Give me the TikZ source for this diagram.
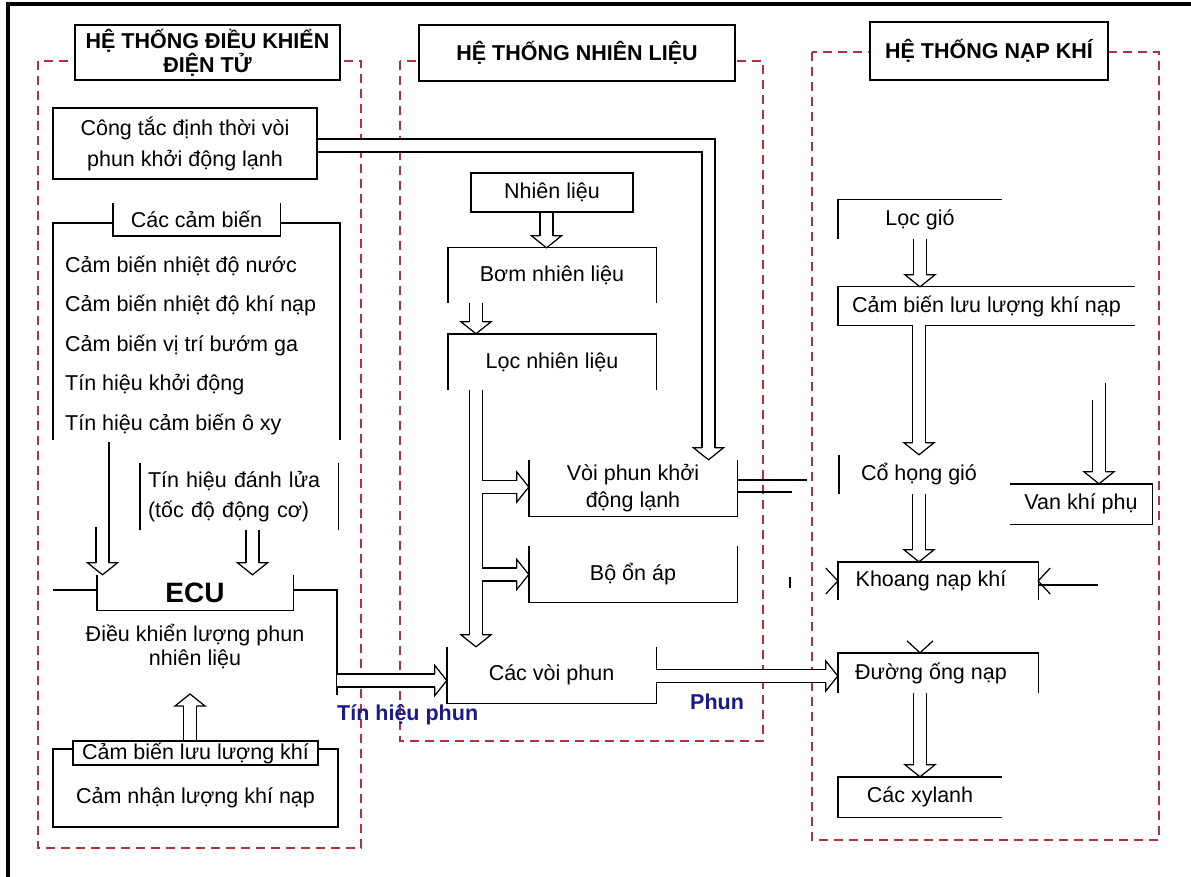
\documentclass[tikz,border=0pt]{standalone}
\usepackage{fontspec}
\setmainfont{Liberation Sans}
\usetikzlibrary{arrows.meta,calc}
\definecolor{dashred}{RGB}{175,50,60}
\definecolor{navyblue}{RGB}{25,25,140}
\begin{document}
\begin{tikzpicture}[x=1pt,y=-1pt,
 every node/.style={font=\fontsize{21.5}{26}\selectfont, inner sep=0pt},
 bx/.style={inner sep=0pt, align=center},
 fr/.style={line width=1.4pt},
 ttl/.style={draw, line width=2pt, fill=white, align=center, font=\bfseries\fontsize{21.5}{20}\selectfont},
 dashbox/.style={draw=dashred, line width=2pt, dash pattern=on 9pt off 6pt},
 dbl/.style={double, double distance=11.5pt, line width=1.3pt, shorten >=12pt},
 lbl/.style={text=navyblue, font=\bfseries\fontsize{21.5}{26}\selectfont},
 hd/.pic={\draw[line width=1.2pt, line join=miter, line cap=butt]
   (-12pt,6.4pt) -- (-12pt,15pt) -- (0pt,0pt) -- (-12pt,-15pt) -- (-12pt,-6.4pt);},
 cv/.pic={\draw[line width=1.2pt, line join=miter]
   (-12pt,13pt) -- (0pt,0pt) -- (-12pt,-13pt);},
]
\useasboundingbox (0,0) rectangle (1191,877);
\fill[white] (0,0) rectangle (1191,877);
% outer black frame
\draw[line width=3.5pt] (8,880) -- (8,4) -- (1195,4);

% dashed groups
\draw[dashbox] (38,61) rectangle (361,848);
\draw[dashbox] (400,61) rectangle (763,741);
\draw[dashbox] (812,52) rectangle (1159,840);

% titles
\node[ttl, minimum width=265pt, minimum height=55pt] (t1) at (207.5,52.5) {HỆ THỐNG ĐIỀU KHIỂN\\ĐIỆN TỬ};
\node[ttl, minimum width=316pt, minimum height=56pt] (t2) at (577,53) {HỆ THỐNG NHIÊN LIỆU};
\node[ttl, minimum width=238pt, minimum height=58pt] (t3) at (989,51) {HỆ THỐNG NẠP KHÍ};

% ---------- left column ----------
\node[bx, draw, line width=1.4pt, minimum width=264pt, minimum height=71pt, font=\fontsize{21.5}{31}\selectfont] (ctac) at (185,143.5) {Công tắc định thời vòi\\phun khởi động lạnh};

\node[bx, minimum width=167pt, minimum height=33pt] (ccb) at (196.5,219.5) {Các cảm biến};
\draw[fr] (ccb.north west) -- (ccb.south west) -- (ccb.south east) -- (ccb.north east);
\draw[fr] (113,223) -- (53,223) -- (53,440);
\draw[fr] (280,223) -- (340,223) -- (340,440);

\node[anchor=west] (s1) at (65,266) {Cảm biến nhiệt độ nước};
\node[anchor=west] (s2) at (65,305.5) {Cảm biến nhiệt độ khí nạp};
\node[anchor=west] (s3) at (65,345) {Cảm biến vị trí bướm ga};
\node[anchor=west] (s4) at (65,384.5) {Tín hiệu khởi động};
\node[anchor=west] (s5) at (65,424) {Tín hiệu cảm biến ô xy};

\node[bx, text width=182pt, inner xsep=8pt, align=left, minimum height=67pt, font=\fontsize{21.5}{30}\selectfont] (dl) at (239,496.5) {Tín hiệu đánh lửa\\(tốc độ động cơ)};
\draw[fr] (dl.north west) -- (dl.south west);
\draw[fr] (dl.north east) -- (dl.south east);

\node[bx, minimum width=196pt, minimum height=35pt, font=\bfseries\fontsize{28}{30}\selectfont] (ecu) at (195,592.5) {ECU};
\draw[fr] (ecu.north west) -- (ecu.south west) -- (ecu.south east) -- (ecu.north east);
\draw[fr] (53,590) -- (97,590);
\draw[fr] (293,590) -- (337,590) -- (337,695);

\coordinate (a1) at (102.5,527);
\draw[fr] (108.9,442) -- (108.9,527);
\draw[dbl] (a1) -- (a1 |- ecu.north);
\pic[rotate=-90] at (a1 |- ecu.north) {hd};
\coordinate (a2) at (252.5,530);
\draw[dbl] (a2) -- (a2 |- ecu.north);
\pic[rotate=-90] at (a2 |- ecu.north) {hd};

\node[align=center, font=\fontsize{21.5}{24}\selectfont] (ecut) at (195,646) {Điều khiển lượng phun\\nhiên liệu};

\node[bx, draw, line width=1.4pt, minimum width=245pt, minimum height=24pt] (mf) at (195.5,753) {Cảm biến lưu lượng khí};
\draw[fr] (73,749) -- (53,749) -- (53,827) -- (338,827) -- (338,749) -- (318,749);
\node (mn) at (195.5,798) {Cảm nhận lượng khí nạp};
\coordinate (a3) at ([xshift=-5.5pt]mf.north);
\coordinate (a3t) at (190,694);
\draw[dbl] (a3) -- (a3t);
\pic[rotate=90] at (a3t) {hd};

% ---------- middle column ----------
\node[bx, draw, line width=1.4pt, minimum width=162pt, minimum height=39pt] (nl) at (552,192.5) {Nhiên liệu};
\node[bx, minimum width=208pt, minimum height=55pt] (bom) at (552,275.5) {Bơm nhiên liệu};
\draw[fr] (bom.south west) -- (bom.north west) -- (bom.north east) -- (bom.south east);
\node[bx, minimum width=208pt, minimum height=56pt] (loc) at (552,362) {Lọc nhiên liệu};
\draw[fr] (loc.south west) -- (loc.north west) -- (loc.north east) -- (loc.south east);
\node[bx, minimum width=208pt, minimum height=56pt, font=\fontsize{21.5}{27}\selectfont] (vp) at (633,488) {Vòi phun khởi\\động lạnh};
\draw[fr] (vp.north west) -- (vp.south west) -- (vp.south east) -- (vp.north east);
\node[bx, minimum width=208pt, minimum height=56pt] (boa) at (633,574) {Bộ ổn áp};
\draw[fr] (boa.north west) -- (boa.south west) -- (boa.south east) -- (boa.north east);
\node[bx, minimum width=209pt, minimum height=56pt] (cvp) at (551.5,675) {Các vòi phun};
\draw[fr] (cvp.north west) -- (cvp.south west) -- (cvp.south east) -- (cvp.north east);

\coordinate (f1) at ([xshift=-5.5pt]nl.south);
\draw[dbl] (f1) -- (f1 |- bom.north);
\pic[rotate=-90] at (f1 |- bom.north) {hd};
\coordinate (f2) at (476,303);
\draw[dbl] (f2 |- bom.south) -- (f2 |- loc.north);
\pic[rotate=-90] at (f2 |- loc.north) {hd};
\draw[dbl] (f2 |- loc.south) -- (f2 |- cvp.north);
\pic[rotate=-90] at (f2 |- cvp.north) {hd};
\coordinate (br1) at (481.8,487);
\draw[dbl] (br1) -- (br1 -| vp.west);
\pic at (br1 -| vp.west) {hd};
\coordinate (br2) at (481.8,574.5);
\draw[dbl] (br2) -- (br2 -| boa.west);
\pic at (br2 -| boa.west) {hd};

\coordinate (c1) at ([yshift=-2pt]ctac.east);
\coordinate (vptop) at ([xshift=75.5pt]vp.north);
\draw[dbl] (c1) -| (vptop);
\pic[rotate=-90] at (vptop) {hd};

\draw[fr] ([yshift=8pt]vp.east) -- ++(70,0);
\draw[fr] ([yshift=-4pt]vp.east) -- ++(55,0);

\coordinate (ecuR) at (337,680.5);
\draw[dbl] (ecuR) -- (ecuR -| cvp.west);
\pic at (ecuR -| cvp.west) {hd};
\node[lbl, anchor=west] (tp) at (337,715) {Tín hiệu phun};

\coordinate (c3) at ([yshift=-1pt]cvp.east);

% ---------- right column ----------
\node[bx, minimum width=164pt, minimum height=39pt] (lg) at (920,219.5) {Lọc gió};
\draw[fr] (lg.south west) -- (lg.north west) -- (lg.north east);
\node[bx, minimum width=297pt, minimum height=38pt] (cb) at (986.5,306) {Cảm biến lưu lượng khí nạp};
\draw[fr] (cb.north east) -- (cb.north west) -- (cb.south west) -- (cb.south east);
\node[bx, minimum width=160pt, minimum height=39pt] (chg) at (919,474.5) {Cổ họng gió};
\draw[fr] (chg.north west) -- (chg.south west);
\node[bx, minimum width=142pt, minimum height=40pt] (vkp) at (1081,504) {Van khí phụ};
\draw[fr] (vkp.north west) -- (vkp.north east) -- (vkp.south east) -- (vkp.south west);
\node[bx, minimum width=200pt, minimum height=38pt] (kn) at (938,581) {Khoang nạp khí\hspace*{14pt}};
\draw[fr] (kn.south west) -- (kn.north west) -- (kn.north east) -- (kn.south east);
\node[bx, minimum width=200pt, minimum height=40pt] (dong) at (938,673) {Đường ống nạp\hspace*{14pt}};
\draw[fr] (dong.south west) -- (dong.north west) -- (dong.north east) -- (dong.south east);
\node[bx, minimum width=164pt, minimum height=40pt] (cxl) at (920,797) {Các xylanh};
\draw[fr] (cxl.north east) -- (cxl.north west) -- (cxl.south west) -- (cxl.south east);

\draw[dbl] (c3) -- (c3 -| dong.west);
\pic at (c3 -| dong.west) {hd};
\node[lbl, anchor=west] (ph) at (690,702) {Phun};

\draw[dbl] (lg.south) -- (lg.south |- cb.north);
\pic[rotate=-90] at (lg.south |- cb.north) {hd};
\draw[dbl] (chg.north |- cb.south) -- (chg.north);
\pic[rotate=-90] at (chg.north) {hd};
\draw[dbl] (chg.south) -- (chg.south |- kn.north);
\pic[rotate=-90] at (chg.south |- kn.north) {hd};
\coordinate (v1) at (1099,400);
\draw[dbl] (v1) -- (v1 |- vkp.north);
\pic[rotate=-90] at (v1 |- vkp.north) {hd};
\draw[fr] (1105.4,383) -- (1105.4,401);

\coordinate (k1) at (1098,585);
\draw[fr] (k1) -- (k1 -| kn.east);
\pic[rotate=180] at (kn.east) {cv};
\draw[fr] (790,577) -- (790,588);
\pic at (kn.west) {cv};
\coordinate (d1) at ([xshift=-18pt]dong.north);
\pic[rotate=-90] at (d1) {cv};
\draw[dbl] (cxl.north |- dong.south) -- (cxl.north);
\pic[rotate=-90] at (cxl.north) {hd};
\end{tikzpicture}
\end{document}
